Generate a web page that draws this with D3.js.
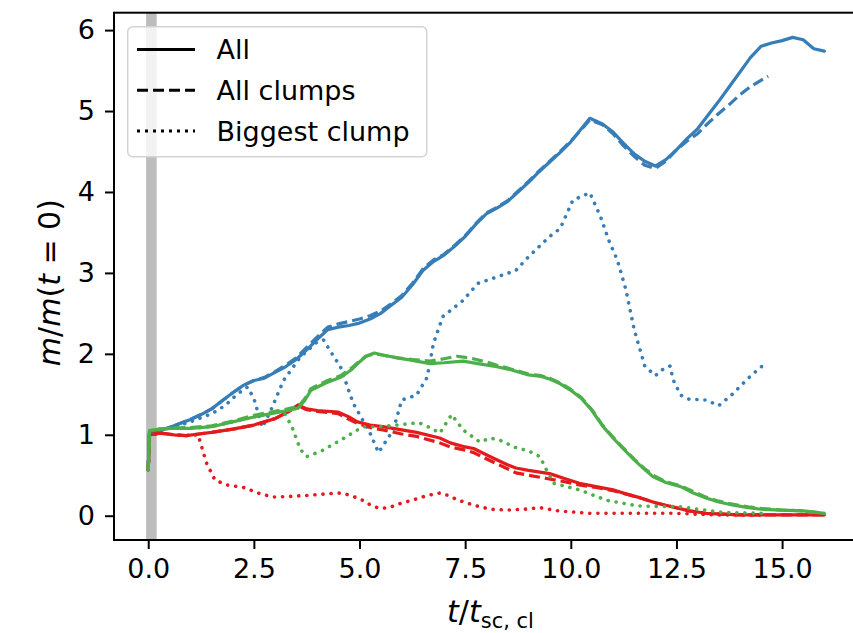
<!DOCTYPE html>
<html>
<head>
<meta charset="utf-8">
<script src="https://cdn.jsdelivr.net/npm/d3@7"></script>
<style>
  html, body { margin: 0; padding: 0; background: #fff; }
  svg { display: block; }
  text { font-family: "DejaVu Sans", sans-serif; fill: #000; }
</style>
</head>
<body>
<svg id="chart" width="853" height="633"></svg>
<script>
// Mass growth relative to t = 0 for three cloud runs (blue, green, red).
// Each run: total mass, mass in all clumps, mass of the biggest clump.

const blueAll = [[0,0.57],[0.03,1.02],[0.25,1.05],[0.5,1.09],[0.75,1.14],[1.0,1.19],[1.25,1.25],[1.5,1.32],[1.75,1.42],[2.0,1.52],[2.25,1.61],[2.5,1.67],[2.75,1.70],[3.0,1.77],[3.25,1.84],[3.5,1.93],[3.75,2.05],[4.0,2.18],[4.25,2.30],[4.5,2.33],[4.75,2.35],[5.0,2.38],[5.25,2.43],[5.5,2.50],[5.75,2.60],[6.0,2.70],[6.25,2.85],[6.5,3.03],[6.75,3.14],[7.0,3.22],[7.25,3.33],[7.5,3.45],[7.75,3.60],[8.0,3.73],[8.25,3.80],[8.5,3.88],[8.75,4.00],[9.0,4.12],[9.25,4.25],[9.5,4.37],[9.75,4.49],[10.0,4.62],[10.25,4.78],[10.45,4.91],[10.75,4.84],[11.0,4.74],[11.25,4.60],[11.5,4.47],[11.75,4.38],[12.0,4.32],[12.25,4.40],[12.5,4.52],[12.75,4.66],[13.0,4.78],[13.25,4.95],[13.5,5.12],[13.75,5.30],[14.0,5.48],[14.25,5.66],[14.5,5.80],[14.75,5.84],[15.0,5.87],[15.25,5.91],[15.5,5.88],[15.75,5.77],[16.0,5.74]];
const blueClumps = [[0,0.57],[0.03,1.02],[0.25,1.05],[0.5,1.09],[0.75,1.14],[1.0,1.19],[1.25,1.25],[1.5,1.32],[1.75,1.42],[2.0,1.52],[2.25,1.61],[2.5,1.67],[2.75,1.71],[3.0,1.78],[3.25,1.86],[3.5,1.95],[3.75,2.08],[4.0,2.21],[4.25,2.33],[4.5,2.37],[4.75,2.40],[5.0,2.43],[5.25,2.47],[5.5,2.53],[5.75,2.62],[6.0,2.72],[6.25,2.87],[6.5,3.05],[6.75,3.16],[7.0,3.23],[7.25,3.34],[7.5,3.46],[7.75,3.61],[8.0,3.74],[8.25,3.81],[8.5,3.89],[8.75,4.01],[9.0,4.13],[9.25,4.26],[9.5,4.38],[9.75,4.50],[10.0,4.63],[10.25,4.77],[10.45,4.89],[10.75,4.83],[11.0,4.72],[11.25,4.57],[11.5,4.44],[11.75,4.33],[12.0,4.29],[12.25,4.38],[12.5,4.52],[12.75,4.63],[13.0,4.72],[13.25,4.85],[13.5,4.97],[13.75,5.08],[14.0,5.20],[14.25,5.30],[14.5,5.38],[14.67,5.43]];
const blueBiggest = [[0,0.57],[0.03,1.02],[0.5,1.08],[1.0,1.16],[1.4,1.24],[1.65,1.30],[1.9,1.40],[2.1,1.50],[2.35,1.59],[2.5,1.45],[2.7,1.09],[2.9,1.30],[3.2,1.67],[3.6,1.96],[4.0,2.15],[4.15,2.17],[4.35,2.00],[4.55,1.84],[4.85,1.39],[5.25,1.02],[5.45,0.78],[5.8,1.06],[6.0,1.43],[6.35,1.49],[6.6,1.71],[6.75,2.13],[6.97,2.46],[7.45,2.66],[7.8,2.87],[8.25,2.95],[8.7,3.03],[9.0,3.20],[9.3,3.35],[9.5,3.45],[9.75,3.55],[10.05,3.90],[10.45,3.99],[10.7,3.70],[10.9,3.40],[11.1,3.16],[11.3,2.80],[11.5,2.30],[11.75,1.85],[12.0,1.73],[12.15,1.80],[12.35,1.85],[12.42,1.68],[12.6,1.49],[12.8,1.44],[13.2,1.43],[13.5,1.36],[13.8,1.49],[14.2,1.70],[14.5,1.84],[14.67,1.86]];

const greenAll = [[0,0.57],[0.03,1.05],[0.25,1.07],[0.5,1.08],[1.0,1.08],[1.5,1.10],[2.0,1.16],[2.5,1.22],[3.0,1.27],[3.3,1.30],[3.55,1.33],[3.7,1.42],[3.85,1.55],[4.2,1.64],[4.55,1.71],[4.8,1.80],[5.0,1.90],[5.15,1.97],[5.35,2.01],[5.6,1.98],[5.9,1.95],[6.25,1.92],[6.67,1.88],[7.0,1.89],[7.45,1.91],[7.8,1.88],[8.25,1.84],[8.6,1.80],[9.0,1.74],[9.3,1.72],[9.5,1.69],[9.75,1.63],[10.0,1.55],[10.25,1.45],[10.5,1.30],[10.75,1.11],[11.0,0.96],[11.2,0.85],[11.5,0.69],[11.75,0.57],[11.95,0.48],[12.25,0.41],[12.6,0.36],[12.9,0.28],[13.2,0.22],[13.5,0.17],[13.85,0.13],[14.2,0.10],[14.5,0.08],[15.0,0.07],[15.5,0.06],[16.0,0.03]];
const greenClumps = [[0,0.57],[0.03,1.05],[0.25,1.07],[0.5,1.08],[1.0,1.09],[1.5,1.11],[2.0,1.17],[2.5,1.24],[3.0,1.29],[3.3,1.32],[3.55,1.35],[3.7,1.44],[3.85,1.57],[4.2,1.66],[4.55,1.73],[4.8,1.82],[5.0,1.91],[5.15,1.97],[5.35,2.00],[5.6,1.98],[5.9,1.95],[6.25,1.93],[6.67,1.91],[7.0,1.94],[7.3,1.97],[7.6,1.95],[8.0,1.90],[8.25,1.86],[8.6,1.81],[9.0,1.75],[9.3,1.73],[9.5,1.70],[9.75,1.64],[10.0,1.56],[10.25,1.46],[10.5,1.31],[10.75,1.12],[11.0,0.97],[11.2,0.86],[11.5,0.70],[11.75,0.58],[11.95,0.50],[12.25,0.42],[12.6,0.37],[12.9,0.30],[13.2,0.23],[13.5,0.18],[13.85,0.14],[14.2,0.11],[14.5,0.09],[15.0,0.07],[15.5,0.06],[16.0,0.03]];
const greenBiggest = [[0,0.57],[0.03,1.05],[0.5,1.08],[1.0,1.08],[1.5,1.10],[2.0,1.16],[2.5,1.22],[3.0,1.28],[3.2,1.29],[3.4,1.10],[3.6,0.82],[3.75,0.73],[4.1,0.80],[4.54,0.93],[5.08,1.10],[5.5,1.10],[5.88,1.12],[6.4,1.15],[6.7,1.08],[6.9,1.02],[7.18,1.25],[7.45,1.06],[7.85,0.91],[8.1,0.96],[8.4,0.92],[8.64,0.85],[9.0,0.80],[9.27,0.73],[9.43,0.56],[9.6,0.40],[10.2,0.32],[10.85,0.19],[11.6,0.12],[12.6,0.11],[13.6,0.04],[14.55,0.03]];

const redAll = [[0,0.57],[0.03,1.00],[0.3,1.02],[0.6,1.00],[0.9,0.99],[1.2,1.01],[1.5,1.03],[2.0,1.07],[2.5,1.12],[3.0,1.20],[3.3,1.28],[3.55,1.37],[3.75,1.32],[4.0,1.30],[4.5,1.28],[4.75,1.22],[4.95,1.16],[5.25,1.12],[5.55,1.10],[6.0,1.06],[6.35,1.03],[6.9,0.96],[7.15,0.90],[7.5,0.85],[7.7,0.83],[8.17,0.71],[8.5,0.63],[8.7,0.59],[9.0,0.56],[9.5,0.52],[9.85,0.46],[10.2,0.40],[10.6,0.36],[11.0,0.32],[11.3,0.27],[11.65,0.22],[12.0,0.16],[12.4,0.11],[12.8,0.06],[13.2,0.03],[14.0,0.01],[16.0,0.01]];
const redClumps = [[0,0.57],[0.03,1.00],[0.3,1.02],[0.6,1.00],[0.9,0.99],[1.2,1.01],[1.5,1.03],[2.0,1.07],[2.5,1.12],[3.0,1.20],[3.3,1.28],[3.55,1.36],[3.75,1.31],[4.0,1.29],[4.5,1.26],[4.75,1.19],[4.95,1.14],[5.25,1.09],[5.55,1.06],[6.0,1.01],[6.35,0.98],[6.9,0.90],[7.15,0.85],[7.5,0.81],[7.7,0.78],[8.17,0.66],[8.5,0.58],[8.7,0.53],[9.0,0.50],[9.43,0.46],[9.85,0.42],[10.2,0.38],[10.6,0.35],[11.0,0.31],[11.3,0.27],[11.65,0.22],[12.0,0.16],[12.4,0.11],[12.8,0.06],[13.2,0.03],[14.0,0.01],[16.0,0.01]];
const redBiggest = [[0,0.57],[0.03,1.00],[0.3,1.02],[0.6,1.00],[0.9,0.99],[1.18,1.00],[1.38,0.65],[1.58,0.44],[1.86,0.38],[2.25,0.35],[2.6,0.28],[2.95,0.23],[3.4,0.24],[3.75,0.25],[4.2,0.27],[4.54,0.28],[4.8,0.25],[5.08,0.19],[5.3,0.12],[5.48,0.09],[5.7,0.10],[5.96,0.15],[6.3,0.20],[6.6,0.25],[6.9,0.28],[7.1,0.25],[7.3,0.20],[7.7,0.13],[8.1,0.08],[8.48,0.07],[8.9,0.08],[9.27,0.10],[9.7,0.06],[10.45,0.03],[12.4,0.03],[13.5,0.01],[14.55,0.01]];

const xTicks = [0, 2.5, 5, 7.5, 10, 12.5, 15];
const yTicks = [0, 1, 2, 3, 4, 5, 6];
const legendLabels = ["All", "All clumps", "Biggest clump"];
const initSpan = [-0.05, 0.2];

const colors = { blue: "#377eb8", green: "#4daf4a", red: "#e41a1c" };
const styles = {
  all: { dash: null, cap: "round", legendDash: null, legendCap: "butt" },
  clumps: { dash: "11,5", cap: "butt", legendDash: "11,5", legendCap: "butt" },
  biggest: { dash: "0.1,8", cap: "round", legendDash: "3,5", legendCap: "butt" }
};

const series = [
  { data: blueAll, color: colors.blue, style: "all" },
  { data: blueClumps, color: colors.blue, style: "clumps" },
  { data: blueBiggest, color: colors.blue, style: "biggest" },
  { data: redAll, color: colors.red, style: "all" },
  { data: redClumps, color: colors.red, style: "clumps" },
  { data: redBiggest, color: colors.red, style: "biggest" },
  { data: greenAll, color: colors.green, style: "all" },
  { data: greenClumps, color: colors.green, style: "clumps" },
  { data: greenBiggest, color: colors.green, style: "biggest" }
];

const plot = { left: 114, right: 866.6, top: 12.7, bottom: 540 };
const x = d3.scaleLinear().domain([-0.81, 17.0]).range([plot.left, plot.right]);
const y = d3.scaleLinear().domain([-0.30, 6.215]).range([plot.bottom, plot.top]);

const svg = d3.select("#chart");
const FS = 27;

// initial phase marker
svg.append("rect")
  .attr("x", x(initSpan[0])).attr("width", x(initSpan[1]) - x(initSpan[0]))
  .attr("y", plot.top).attr("height", plot.bottom - plot.top)
  .attr("fill", "#bdbdbd");

// curves
const line = d3.line().x(d => x(d[0])).y(d => y(d[1]));
const g = svg.append("g");
series.forEach(s => {
  const st = styles[s.style];
  g.append("path")
    .attr("d", line(s.data))
    .attr("fill", "none")
    .attr("stroke", s.color)
    .attr("stroke-width", s.style === "biggest" ? 3.6 : 3.2)
    .attr("stroke-linejoin", "round")
    .attr("stroke-linecap", st.cap)
    .attr("stroke-dasharray", st.dash);
});

// axes
const xAxis = d3.axisBottom(x).tickValues(xTicks).tickFormat(d3.format(".1f")).tickSize(9).tickPadding(10);
const yAxis = d3.axisLeft(y).tickValues(yTicks).tickFormat(d3.format("d")).tickSize(9).tickPadding(10);

const gx = svg.append("g").attr("transform", `translate(0,${plot.bottom})`).call(xAxis);
const gy = svg.append("g").attr("transform", `translate(${plot.left},0)`).call(yAxis);
[gx, gy].forEach(a => {
  a.select(".domain").remove();
  a.selectAll(".tick line").attr("stroke", "#000").attr("stroke-width", 2);
  a.selectAll(".tick text").attr("font-size", FS).attr("font-family", "DejaVu Sans").attr("fill", "#000");
});

// frame
svg.append("rect")
  .attr("x", plot.left).attr("y", plot.top)
  .attr("width", plot.right - plot.left).attr("height", plot.bottom - plot.top)
  .attr("fill", "none").attr("stroke", "#000").attr("stroke-width", 2);

// legend
const lg = svg.append("g");
lg.append("rect")
  .attr("x", 127.7).attr("y", 26.7).attr("width", 299).attr("height", 130)
  .attr("rx", 5).attr("fill", "#fff").attr("fill-opacity", 0.8)
  .attr("stroke", "#d4d4d4").attr("stroke-width", 1.5);
const legendKeys = ["all", "clumps", "biggest"];
legendLabels.forEach((lab, i) => {
  const yy = 49.5 + i * 40.7;
  const st = styles[legendKeys[i]];
  lg.append("line")
    .attr("x1", 137).attr("x2", 195).attr("y1", yy).attr("y2", yy)
    .attr("stroke", "#000").attr("stroke-width", 3)
    .attr("stroke-dasharray", st.legendDash).attr("stroke-linecap", st.legendCap);
  lg.append("text")
    .attr("x", 216.5).attr("y", yy).attr("dy", "0.36em")
    .attr("font-size", FS).text(lab);
});

// axis titles
const TFS = 30;
const xl = svg.append("text")
  .attr("x", x(8.1)).attr("y", 622)
  .attr("text-anchor", "middle").attr("font-size", TFS);
xl.append("tspan").attr("font-style", "italic").text("t");
xl.append("tspan").text("/");
xl.append("tspan").attr("font-style", "italic").text("t");
xl.append("tspan").attr("font-size", 21).attr("dy", 6).text("sc, cl");

const yl = svg.append("text")
  .attr("transform", `translate(60,${y(2.88)}) rotate(-90)`)
  .attr("text-anchor", "middle").attr("font-size", TFS);
yl.append("tspan").attr("font-style", "italic").text("m");
yl.append("tspan").text("/");
yl.append("tspan").attr("font-style", "italic").text("m");
yl.append("tspan").text("(");
yl.append("tspan").attr("font-style", "italic").text("t");
yl.append("tspan").text(" = 0)");
</script>
</body>
</html>
